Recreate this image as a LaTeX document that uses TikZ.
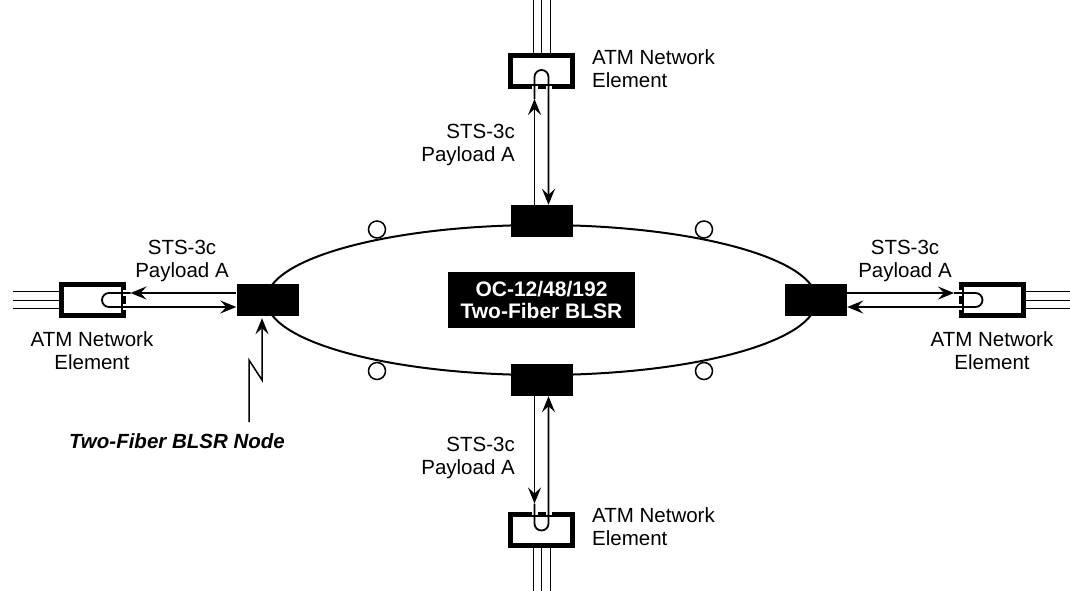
\documentclass[tikz,border=0pt]{standalone}
\usepackage{fontspec}
\setmainfont{Liberation Sans}
\usetikzlibrary{calc,arrows.meta}

\tikzset{
  ringnode/.style={fill=black, minimum width=62pt, minimum height=32pt, inner sep=0pt},
  atmbox/.style={draw=black, line width=5pt, fill=white, minimum width=62pt, minimum height=31pt, inner sep=0pt},
  flow/.style={line width=1.8pt},
  flowtip/.style={-{Stealth[length=16pt,width=13pt,inset=6pt]}},
  fiber/.style={line width=1pt},
  gap/.style={white, line width=6pt},
  lbl/.style={inner sep=0pt, font=\fontsize{20.5}{23}\selectfont},
}

\begin{document}
\begin{tikzpicture}[x=1pt,y=-1pt]
  \useasboundingbox (0,0) rectangle (1070,590);

  % the ring
  \draw[line width=2pt] (541.5,300) ellipse [x radius=275, y radius=75];
  \foreach \cx/\cy in {377/229.5, 704/229.5, 377/371, 704/371}
    \draw[line width=1.5pt, fill=white] (\cx,\cy) circle [radius=8.5];

  % ring nodes
  \node[ringnode] (ringN) at (541.5,221) {};
  \node[ringnode] (ringS) at (541.5,380) {};
  \node[ringnode] (ringW) at (267.5,300) {};
  \node[ringnode] (ringE) at (816,300) {};

  \node[fill=black, text=white, align=center, inner sep=0pt,
        minimum width=187pt, minimum height=56pt,
        font=\bfseries\fontsize{21}{22}\selectfont] (ringname) at (541.5,300)
        {OC-12/48/192\\Two-Fiber BLSR};

  % ATM network elements, fibers drawn first
  \coordinate (atmNc) at (541.5,71);
  \coordinate (atmSc) at (541.5,529.5);
  \coordinate (atmWc) at (92,300);
  \coordinate (atmEc) at (992.5,300);
  \foreach \d in {-8.5,0,8.5} {
    \draw[fiber] ($(atmNc)+(\d,0)$) -- ++(0,-75);
    \draw[fiber] ($(atmSc)+(\d,0)$) -- ++(0,65);
    \draw[fiber] ($(atmWc)+(0,\d)$) -- ++(-79,0);
    \draw[fiber] ($(atmEc)+(0,\d)$) -- ++(80,0);
  }
  \node[atmbox] (atmN) at (atmNc) {};
  \node[atmbox] (atmS) at (atmSc) {};
  \node[atmbox] (atmW) at (atmWc) {};
  \node[atmbox] (atmE) at (atmEc) {};

  % openings where the payload enters
  \foreach \d in {-7,7} {
    \draw[gap] ($(atmN.south)+(\d,-3)$) -- ++(0,6);
    \draw[gap] ($(atmS.north)+(\d,-3)$) -- ++(0,6);
    \draw[gap] ($(atmW.east)+(-3,\d)$) -- ++(6,0);
    \draw[gap] ($(atmE.west)+(-3,\d)$) -- ++(6,0);
  }

  % payload loops
  \draw[flow,flowtip] ($(ringN.north)+(-7,0)$) -- ($(atmN.south)+(-7,10)$);
  \draw[flow,flowtip] ($(atmN.south)+(-7,10)$) -- ($(atmN.center)+(-7,6)$)
    arc[start angle=180, end angle=360, radius=7] -- ($(ringN.north)+(7,0)$);

  \draw[flow,flowtip] ($(ringS.south)+(-7,0)$) -- ($(atmS.north)+(-7,-8)$);
  \draw[flow,flowtip] ($(atmS.north)+(-7,-8)$) -- ($(atmS.center)+(-7,-6)$)
    arc[start angle=180, end angle=0, radius=7] -- ($(ringS.south)+(7,0)$);

  \draw[flow,flowtip] ($(ringW.west)+(0,-7)$) -- ($(atmW.east)+(5,-7)$);
  \draw[flow,flowtip] ($(atmW.east)+(5,-7)$) -- ($(atmW.center)+(17,-7)$)
    arc[start angle=270, end angle=90, radius=7] -- ($(ringW.west)+(0,7)$);

  \draw[flow,flowtip] ($(ringE.east)+(0,-7)$) -- ($(atmE.west)+(-5,-7)$);
  \draw[flow,flowtip] ($(atmE.west)+(-5,-7)$) -- ($(atmE.center)+(-17,-7)$)
    arc[start angle=270, end angle=450, radius=7] -- ($(ringE.east)+(0,7)$);

  % labels (base = last line)
  \node[lbl, anchor=base west, align=left] (atmNlbl) at (592,87) {ATM Network\\Element};
  \node[lbl, anchor=base west, align=left] (atmSlbl) at (592,545.5) {ATM Network\\Element};
  \node[lbl, anchor=base, align=center] (atmWlbl) at (92,369) {ATM Network\\Element};
  \node[lbl, anchor=base, align=center] (atmElbl) at (992,369) {ATM Network\\Element};

  \node[lbl, anchor=base east, align=right] (stsN) at (515,161) {STS-3c\\Payload A};
  \node[lbl, anchor=base east, align=right] (stsS) at (515,474) {STS-3c\\Payload A};
  \node[lbl, anchor=base, align=center] (stsW) at (182,277) {STS-3c\\Payload A};
  \node[lbl, anchor=base, align=center] (stsE) at (905,277) {STS-3c\\Payload A};

  % pointer to a ring node
  \node[lbl, anchor=base, font=\bfseries\itshape\fontsize{20.5}{23}\selectfont]
    (nodelbl) at (177,448) {Two-Fiber BLSR Node};
  \coordinate (zigfoot) at (249,422);
  \draw[line width=1.5pt, flowtip] (zigfoot) -- ++(0,-62) -- ++(13,20)
    -- ($(ringW.south)+(-5.5,2)$);
\end{tikzpicture}
\end{document}
